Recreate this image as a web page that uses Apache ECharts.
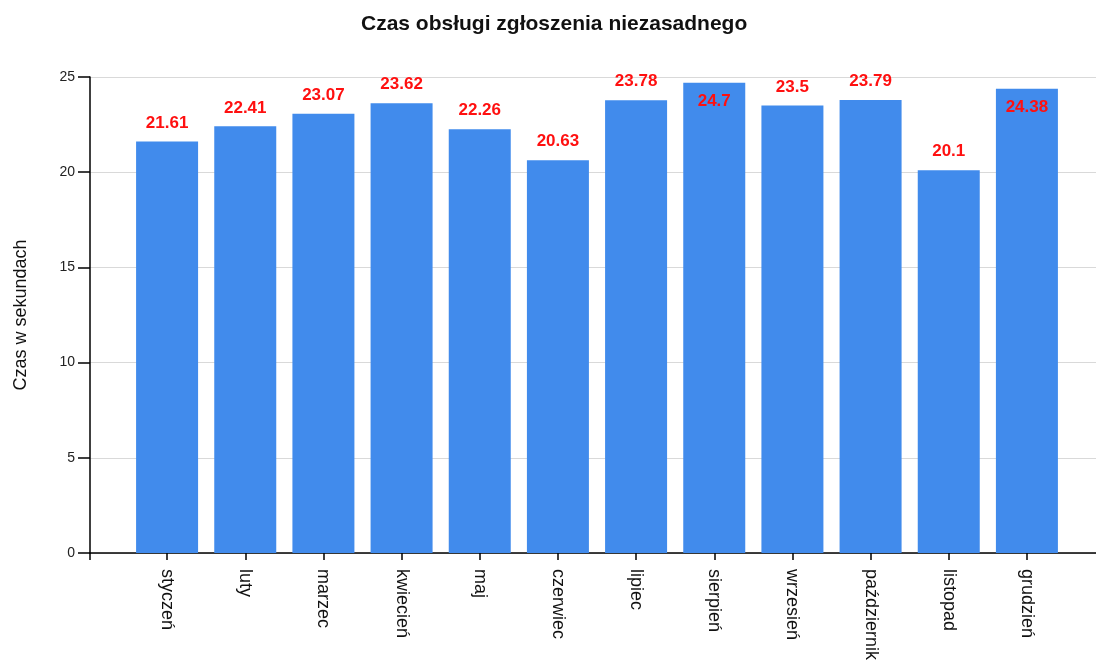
<!DOCTYPE html>
<html><head><meta charset="utf-8">
<script src="https://cdn.jsdelivr.net/npm/echarts@6/dist/echarts.min.js"></script>
<style>html,body{margin:0;padding:0;background:#fff}#c{width:1096px;height:668px}</style>
</head><body><div id="c"></div>
<script>
var title = 'Czas obsługi zgłoszenia niezasadnego';
var yAxisName = 'Czas w sekundach';
var months = ['styczeń','luty','marzec','kwiecień','maj','czerwiec','lipiec','sierpień','wrzesień','październik','listopad','grudzień'];
var values = [21.61,22.41,23.07,23.62,22.26,20.63,23.78,24.7,23.5,23.79,20.1,24.38];
var yTicks = [0,5,10,15,20,25];

var FONT = '"Liberation Sans", Arial, sans-serif';
var yMin = yTicks[0], yMax = yTicks[yTicks.length-1], yStep = yTicks[1]-yTicks[0];

var chart = echarts.init(document.getElementById('c'), null, {renderer:'canvas'});
chart.setOption({
  animation:false,
  backgroundColor:'#fff',
  title:{text:title,left:356,top:9,textStyle:{fontFamily:FONT,fontSize:21,fontWeight:'bold',color:'#111'}},
  grid:[
    {left:90,right:0,top:77,bottom:115},
    {left:128,right:30,top:77,bottom:115}
  ],
  xAxis:[
    {gridIndex:0,type:'value',min:0,max:1,interval:1,
     axisLine:{show:true,lineStyle:{color:'#000',width:1.5}},
     axisTick:{show:true,length:7,customValues:[0],lineStyle:{color:'#000',width:1.5}},
     axisLabel:{show:false},splitLine:{show:false}},
    {gridIndex:1,type:'category',data:months,
     axisLine:{show:false},
     axisTick:{show:true,alignWithLabel:true,length:7,lineStyle:{color:'#000',width:1.5}},
     axisLabel:{rotate:-90,margin:16,fontFamily:FONT,fontSize:18,color:'#111'}}
  ],
  yAxis:[
    {gridIndex:0,type:'value',min:yMin,max:yMax,interval:yStep,
     name:yAxisName,nameLocation:'middle',nameGap:60,nameRotate:90,
     nameTextStyle:{fontFamily:FONT,fontSize:18,color:'#111'},
     axisLine:{show:true,lineStyle:{color:'#000',width:1.5}},
     axisTick:{show:true,length:12,lineStyle:{color:'#000',width:1.5}},
     axisLabel:{margin:15,fontFamily:FONT,fontSize:14,color:'#222'},
     splitLine:{show:true,lineStyle:{color:'#d9d9d9',width:1}}},
    {gridIndex:1,type:'value',min:yMin,max:yMax,show:false}
  ],
  series:[{
    type:'bar',xAxisIndex:1,yAxisIndex:1,barWidth:62,
    itemStyle:{color:'#418bec'},
    data:values.map(function(v){
      return {value:v,label:{position:(v>24?'insideTop':'top')}};
    }),
    label:{show:true,distance:10,fontFamily:FONT,fontSize:17,fontWeight:'bold',color:'#ff1010'}
  }]
});
</script></body></html>
